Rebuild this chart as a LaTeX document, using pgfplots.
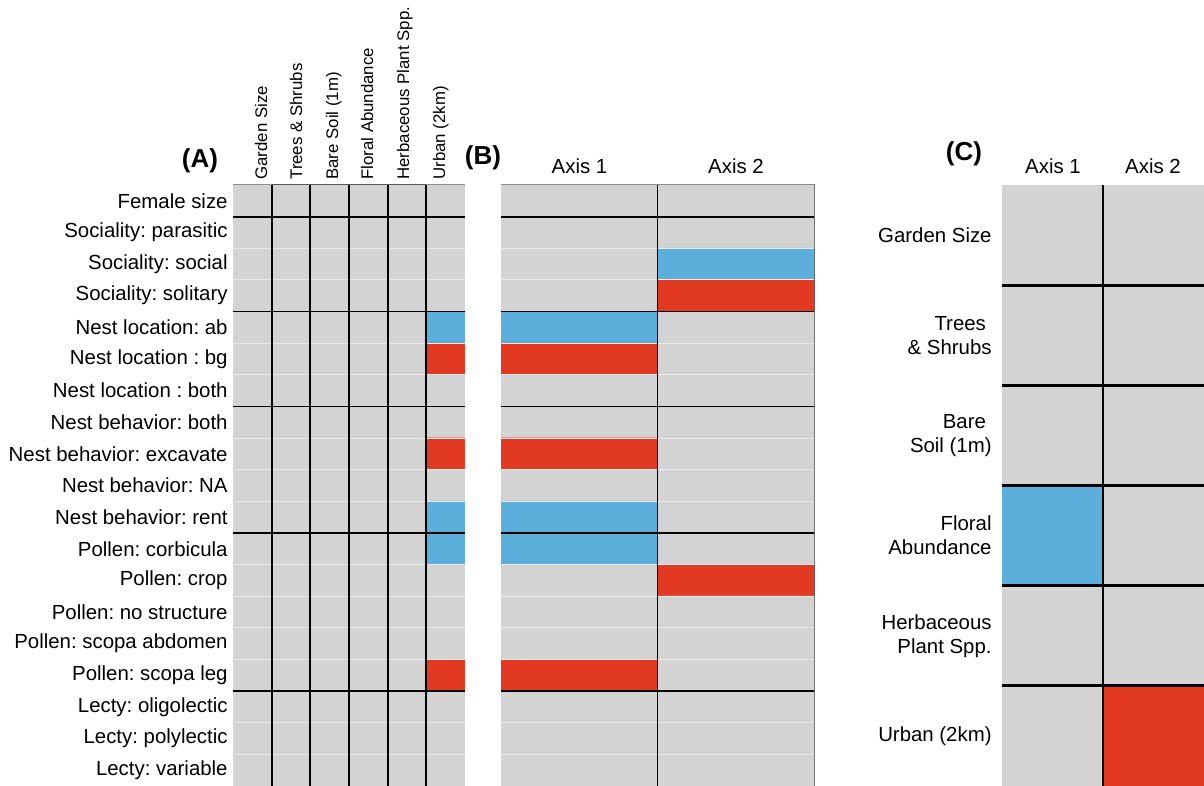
\documentclass[border=0pt]{standalone}
\usepackage{pgfplots}
\usepackage{pgfplotstable}
\pgfplotsset{compat=1.18}
\usepackage{fontspec}
\setmainfont{Liberation Sans}
\frenchspacing
\definecolor{hmblue}{RGB}{93,175,219}
\definecolor{hmred}{RGB}{226,58,34}
\definecolor{hmgray}{RGB}{211,211,211}
\definecolor{rowline}{RGB}{234,234,234}
\newcommand\rowfont{\fontsize{10.2}{12}\selectfont}
\newcommand\colfont{\fontsize{8.4}{10}\selectfont}
\newcommand\panfont{\fontsize{13}{15}\selectfont\bfseries}

% Panel A: x = predictor (0..5), y = trait row (0..18), c = -1 blue, 0 none, 1 red
\pgfplotstableread[row sep=\\]{
x y c \\
0 0 0 \\ 1 0 0 \\ 2 0 0 \\ 3 0 0 \\ 4 0 0 \\ 5 0 0 \\
0 1 0 \\ 1 1 0 \\ 2 1 0 \\ 3 1 0 \\ 4 1 0 \\ 5 1 0 \\
0 2 0 \\ 1 2 0 \\ 2 2 0 \\ 3 2 0 \\ 4 2 0 \\ 5 2 0 \\
0 3 0 \\ 1 3 0 \\ 2 3 0 \\ 3 3 0 \\ 4 3 0 \\ 5 3 0 \\
0 4 0 \\ 1 4 0 \\ 2 4 0 \\ 3 4 0 \\ 4 4 0 \\ 5 4 -1 \\
0 5 0 \\ 1 5 0 \\ 2 5 0 \\ 3 5 0 \\ 4 5 0 \\ 5 5 1 \\
0 6 0 \\ 1 6 0 \\ 2 6 0 \\ 3 6 0 \\ 4 6 0 \\ 5 6 0 \\
0 7 0 \\ 1 7 0 \\ 2 7 0 \\ 3 7 0 \\ 4 7 0 \\ 5 7 0 \\
0 8 0 \\ 1 8 0 \\ 2 8 0 \\ 3 8 0 \\ 4 8 0 \\ 5 8 1 \\
0 9 0 \\ 1 9 0 \\ 2 9 0 \\ 3 9 0 \\ 4 9 0 \\ 5 9 0 \\
0 10 0 \\ 1 10 0 \\ 2 10 0 \\ 3 10 0 \\ 4 10 0 \\ 5 10 -1 \\
0 11 0 \\ 1 11 0 \\ 2 11 0 \\ 3 11 0 \\ 4 11 0 \\ 5 11 -1 \\
0 12 0 \\ 1 12 0 \\ 2 12 0 \\ 3 12 0 \\ 4 12 0 \\ 5 12 0 \\
0 13 0 \\ 1 13 0 \\ 2 13 0 \\ 3 13 0 \\ 4 13 0 \\ 5 13 0 \\
0 14 0 \\ 1 14 0 \\ 2 14 0 \\ 3 14 0 \\ 4 14 0 \\ 5 14 0 \\
0 15 0 \\ 1 15 0 \\ 2 15 0 \\ 3 15 0 \\ 4 15 0 \\ 5 15 1 \\
0 16 0 \\ 1 16 0 \\ 2 16 0 \\ 3 16 0 \\ 4 16 0 \\ 5 16 0 \\
0 17 0 \\ 1 17 0 \\ 2 17 0 \\ 3 17 0 \\ 4 17 0 \\ 5 17 0 \\
0 18 0 \\ 1 18 0 \\ 2 18 0 \\ 3 18 0 \\ 4 18 0 \\ 5 18 0 \\
}\dataA

% Panel B: x = ordination axis (0,1), y = trait row
\pgfplotstableread[row sep=\\]{
x y c \\
0 0 0 \\ 1 0 0 \\
0 1 0 \\ 1 1 0 \\
0 2 0 \\ 1 2 -1 \\
0 3 0 \\ 1 3 1 \\
0 4 -1 \\ 1 4 0 \\
0 5 1 \\ 1 5 0 \\
0 6 0 \\ 1 6 0 \\
0 7 0 \\ 1 7 0 \\
0 8 1 \\ 1 8 0 \\
0 9 0 \\ 1 9 0 \\
0 10 -1 \\ 1 10 0 \\
0 11 -1 \\ 1 11 0 \\
0 12 0 \\ 1 12 1 \\
0 13 0 \\ 1 13 0 \\
0 14 0 \\ 1 14 0 \\
0 15 1 \\ 1 15 0 \\
0 16 0 \\ 1 16 0 \\
0 17 0 \\ 1 17 0 \\
0 18 0 \\ 1 18 0 \\
}\dataB

% Panel C: x = ordination axis (0,1), y = predictor row
\pgfplotstableread[row sep=\\]{
x y c \\
0 0 0 \\ 1 0 0 \\
0 1 0 \\ 1 1 0 \\
0 2 0 \\ 1 2 0 \\
0 3 -1 \\ 1 3 0 \\
0 4 0 \\ 1 4 0 \\
0 5 0 \\ 1 5 1 \\
}\dataC

\pgfplotsset{
  hm/.style={
    scale only axis, anchor=south west,
    y dir=reverse, xtick=\empty,
    major tick length=0pt, tick style={draw=none},
    axis line style={black!65, line width=0.5pt},
    colormap={hm}{rgb255=(93,175,219) rgb255=(211,211,211) rgb255=(226,58,34)},
    point meta min=-1, point meta max=1,
  },
}

\begin{document}
\begin{tikzpicture}
\useasboundingbox (0,0) rectangle (602pt,393pt);

% ---------- Panel A ----------
\begin{axis}[hm,
  at={(116.5pt,0pt)}, width=116pt, height=300.5pt,
  xmin=-0.5, xmax=5.5, ymin=-0.5, ymax=18.5,
  ytick={0,...,18},
  yticklabels={Female size, Sociality: parasitic, Sociality: social, Sociality: solitary,
    Nest location: ab, Nest location : bg, Nest location : both,
    Nest behavior: both, Nest behavior: excavate, Nest behavior: NA, Nest behavior: rent,
    Pollen: corbicula, Pollen: crop, Pollen: no structure, Pollen: scopa abdomen, Pollen: scopa leg,
    Lecty: oligolectic, Lecty: polylectic, Lecty: variable},
  yticklabel style={font=\rowfont, inner sep=1pt, xshift=-1.5pt},
]
\addplot[matrix plot*, mesh/cols=6, point meta=explicit] table[x=x, y=y, meta=c] {\dataA};
\pgfplotsinvokeforeach{0.5,1.5,2.5,4.5,5.5,7.5,8.5,9.5,11.5,12.5,13.5,14.5,16.5,17.5}{
  \draw[rowline, line width=0.5pt] (axis cs:-0.5,#1) -- (axis cs:5.5,#1);}
\pgfplotsinvokeforeach{0.5,1.5,2.5,3.5,4.5}{
  \draw[black, line width=0.9pt] (axis cs:#1,-0.5) -- (axis cs:#1,18.5);}
\pgfplotsinvokeforeach{0.5,3.5,6.5,10.5,15.5}{
  \draw[black, line width=0.9pt] (axis cs:-0.5,#1) -- (axis cs:5.5,#1);}
\end{axis}

% ---------- Panel B ----------
\begin{axis}[hm,
  at={(250.5pt,0pt)}, width=156.5pt, height=300.5pt,
  xmin=-0.5, xmax=1.5, ymin=-0.5, ymax=18.5,
  ytick=\empty,
]
\addplot[matrix plot*, mesh/cols=2, point meta=explicit] table[x=x, y=y, meta=c] {\dataB};
\pgfplotsinvokeforeach{0.5,1.5,2.5,4.5,5.5,7.5,8.5,9.5,11.5,12.5,13.5,14.5,16.5,17.5}{
  \draw[rowline, line width=0.5pt] (axis cs:-0.5,#1) -- (axis cs:1.5,#1);}
\draw[black, line width=0.9pt] (axis cs:0.5,-0.5) -- (axis cs:0.5,18.5);
\pgfplotsinvokeforeach{0.5,3.5,6.5,10.5,15.5}{
  \draw[black, line width=0.9pt] (axis cs:-0.5,#1) -- (axis cs:1.5,#1);}
\end{axis}

% ---------- Panel C ----------
\begin{axis}[hm,
  at={(501pt,0pt)}, width=101pt, height=300.5pt,
  xmin=-0.5, xmax=1.5, ymin=-0.5, ymax=5.5,
  ytick={0,...,5},
  yticklabels={Garden Size, {Trees\hspace*{0.28em}\\\& Shrubs}, {Bare\hspace*{0.28em}\\Soil (1m)},
    {Floral\\Abundance}, {Herbaceous\\Plant Spp.}, Urban (2km)},
  yticklabel style={font=\rowfont, align=right, inner sep=1pt, xshift=-4pt},
]
\addplot[matrix plot*, mesh/cols=2, point meta=explicit] table[x=x, y=y, meta=c] {\dataC};
\draw[black, line width=1.4pt] (axis cs:0.5,-0.5) -- (axis cs:0.5,5.5);
\pgfplotsinvokeforeach{0.5,1.5,2.5,3.5,4.5}{
  \draw[black, line width=1.4pt] (axis cs:-0.5,#1) -- (axis cs:1.5,#1);}
\end{axis}

% ---------- headers ----------
\node[font=\panfont] at (100pt,312.5pt) {(A)};
\node[font=\panfont] at (241.5pt,314pt) {(B)};
\node[font=\panfont] at (482pt,316pt) {(C)};

\node[font=\rowfont] at (289.75pt,310pt) {Axis 1};
\node[font=\rowfont] at (368pt,310pt) {Axis 2};
\node[font=\rowfont] at (526.5pt,310pt) {Axis 1};
\node[font=\rowfont] at (576.5pt,310pt) {Axis 2};

\node[font=\colfont, rotate=90, anchor=base west, inner sep=0pt] at (133.5pt,303pt) {Garden Size};
\node[font=\colfont, rotate=90, anchor=base west, inner sep=0pt] at (151pt,303pt) {Trees \& Shrubs};
\node[font=\colfont, rotate=90, anchor=base west, inner sep=0pt] at (169pt,303pt) {Bare Soil (1m)};
\node[font=\colfont, rotate=90, anchor=base west, inner sep=0pt] at (186.5pt,303pt) {Floral Abundance};
\node[font=\colfont, rotate=90, anchor=base west, inner sep=0pt] at (204.5pt,303pt) {Herbaceous Plant Spp.};
\node[font=\colfont, rotate=90, anchor=base west, inner sep=0pt] at (222.5pt,303pt) {Urban (2km)};
\end{tikzpicture}
\end{document}
